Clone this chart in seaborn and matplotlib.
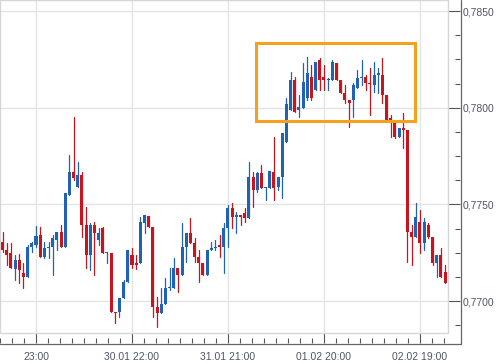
import numpy as np
import pandas as pd
import matplotlib
matplotlib.use("Agg")
import matplotlib.pyplot as plt
import matplotlib.ticker as mticker
from matplotlib.patches import Rectangle
from matplotlib.lines import Line2D
import seaborn as sns

# ---- data (hourly candles, hour 0 = 29.01 23:00) ----
hours = list(range(-8, 99))
opens = [0.77305, 0.77264, 0.77248, 0.77166, 0.77212, 0.77145, 0.77124, 0.77280,
         0.77290, 0.77341, 0.77228, 0.77274, 0.77280, 0.77316, 0.77357, 0.77280,
         0.77548, 0.77668, 0.77590, 0.77652, 0.77393, 0.77238, 0.77393, 0.77316,
         0.77378, 0.77248, 0.77248, 0.76943, 0.76943, 0.77015, 0.77098, 0.77238,
         0.77197, 0.77197, 0.77404, 0.77440, 0.77383, 0.76970, 0.76938, 0.76984,
         0.77067, 0.77067, 0.77171, 0.77134, 0.77280, 0.77352, 0.77300, 0.77228,
         0.77197, 0.77134, 0.77264, 0.77274, 0.77290, 0.77280, 0.77378, 0.77481,
         0.77435, 0.77445, 0.77456, 0.77430, 0.77642, 0.77574, 0.77662, 0.77585,
         0.77585, 0.77668, 0.77590, 0.77642, 0.77823, 0.77988, 0.78143, 0.77988,
         0.77999, 0.78050, 0.78159, 0.78092, 0.78247, 0.78159, 0.78143, 0.78143,
         0.78231, 0.78143, 0.78076, 0.78040, 0.78040, 0.78102, 0.78154, 0.78159,
         0.78128, 0.78117, 0.78169, 0.78169, 0.78066, 0.77947, 0.77936, 0.77849,
         0.77895, 0.77885, 0.77357, 0.77331, 0.77409, 0.77300, 0.77393, 0.77331,
         0.77197, 0.77238, 0.77150]
closes = [0.77264, 0.77238, 0.77171, 0.77212, 0.77160, 0.77124, 0.77280, 0.77300,
          0.77336, 0.77228, 0.77274, 0.77280, 0.77326, 0.77357, 0.77280, 0.77559,
          0.77668, 0.77637, 0.77652, 0.77393, 0.77238, 0.77393, 0.77352, 0.77352,
          0.77248, 0.77254, 0.76943, 0.76938, 0.77015, 0.77098, 0.77264, 0.77186,
          0.77186, 0.77409, 0.77445, 0.77383, 0.76970, 0.76938, 0.76984, 0.77067,
          0.77072, 0.77171, 0.77134, 0.77280, 0.77352, 0.77300, 0.77228, 0.77197,
          0.77134, 0.77264, 0.77274, 0.77280, 0.77280, 0.77378, 0.77481, 0.77435,
          0.77445, 0.77435, 0.77430, 0.77642, 0.77574, 0.77662, 0.77585, 0.77590,
          0.77673, 0.77585, 0.77642, 0.77869, 0.78019, 0.78143, 0.77978, 0.78004,
          0.78133, 0.78179, 0.78050, 0.78236, 0.78143, 0.78143, 0.78148, 0.78236,
          0.78143, 0.78076, 0.78040, 0.78024, 0.78117, 0.78154, 0.78159, 0.78128,
          0.78123, 0.78169, 0.78179, 0.78066, 0.77936, 0.77926, 0.77849, 0.77895,
          0.77885, 0.77357, 0.77331, 0.77435, 0.77300, 0.77409, 0.77331, 0.77197,
          0.77238, 0.77124, 0.77093]
highs = [0.77357, 0.77300, 0.77300, 0.77238, 0.77243, 0.77197, 0.77290, 0.77305,
         0.77388, 0.77383, 0.77305, 0.77305, 0.77341, 0.77357, 0.77393, 0.77559,
         0.77755, 0.77952, 0.77719, 0.77668, 0.77487, 0.77404, 0.77409, 0.77378,
         0.77383, 0.77254, 0.77248, 0.76943, 0.77015, 0.77109, 0.77264, 0.77274,
         0.77238, 0.77435, 0.77445, 0.77440, 0.77383, 0.77021, 0.77067, 0.77119,
         0.77171, 0.77223, 0.77171, 0.77404, 0.77352, 0.77430, 0.77326, 0.77264,
         0.77197, 0.77264, 0.77305, 0.77316, 0.77341, 0.77404, 0.77497, 0.77507,
         0.77461, 0.77445, 0.77481, 0.77719, 0.77668, 0.77668, 0.77704, 0.77590,
         0.77673, 0.77849, 0.77642, 0.77869, 0.78050, 0.78185, 0.78159, 0.78066,
         0.78231, 0.78262, 0.78221, 0.78236, 0.78257, 0.78221, 0.78154, 0.78247,
         0.78231, 0.78143, 0.78117, 0.78040, 0.78128, 0.78195, 0.78247, 0.78169,
         0.78205, 0.78236, 0.78205, 0.78257, 0.78066, 0.77962, 0.77936, 0.77895,
         0.77973, 0.77885, 0.77393, 0.77507, 0.77471, 0.77430, 0.77404, 0.77331,
         0.77238, 0.77274, 0.77186]
lows = [0.77254, 0.77186, 0.77171, 0.77109, 0.77093, 0.77067, 0.77124, 0.77254,
        0.77280, 0.77228, 0.77223, 0.77223, 0.77134, 0.77264, 0.77280, 0.77280,
        0.77548, 0.77626, 0.77590, 0.77331, 0.77171, 0.77160, 0.77134, 0.77290,
        0.77248, 0.77197, 0.76943, 0.76886, 0.76917, 0.77015, 0.77098, 0.77171,
        0.77166, 0.77197, 0.77352, 0.77383, 0.76917, 0.76866, 0.76938, 0.76984,
        0.77057, 0.77067, 0.77047, 0.77134, 0.77202, 0.77300, 0.77202, 0.77098,
        0.77134, 0.77134, 0.77264, 0.77264, 0.77228, 0.77145, 0.77280, 0.77378,
        0.77352, 0.77393, 0.77409, 0.77430, 0.77487, 0.77564, 0.77585, 0.77523,
        0.77585, 0.77523, 0.77574, 0.77533, 0.77823, 0.77988, 0.77978, 0.77952,
        0.77999, 0.78040, 0.78040, 0.78092, 0.78092, 0.78092, 0.78092, 0.78143,
        0.78143, 0.78076, 0.78024, 0.77900, 0.77952, 0.78102, 0.78117, 0.78092,
        0.77962, 0.78081, 0.78076, 0.78024, 0.77926, 0.77849, 0.77843, 0.77849,
        0.77792, 0.77202, 0.77186, 0.77331, 0.77248, 0.77264, 0.77326, 0.77186,
        0.77124, 0.77124, 0.77093]

tick_hours = [0, 23, 46, 69, 92]
tick_labels = ["23:00", "30.01 22:00", "31.01 21:00", "01.02 20:00", "02.02 19:00"]
price_ticks = [0.7700, 0.7750, 0.7800, 0.7850]
box_hours = [52.7, 90.8]
box_prices = [0.77931, 0.78335]

BLUE = "#2063b2"
RED = "#c8141c"
ORANGE = "#f5a11c"
TXT = "#4f5666"

sns.set_style("white")
plt.rcParams["font.family"] = ["Liberation Sans", "DejaVu Sans"]

df = pd.DataFrame({"hour": hours, "open": opens, "close": closes,
                   "high": highs, "low": lows})
df["dir"] = np.where(df["close"] >= df["open"], "up", "down")

W, H = 498, 363
fig = plt.figure(figsize=(W / 100, H / 100), dpi=100)
ax = fig.add_axes([0, 30 / H, 448 / W, 333 / H])

# wicks via seaborn
wick = pd.concat([
    df[["hour", "high", "dir"]].rename(columns={"high": "price"}),
    df[["hour", "low", "dir"]].rename(columns={"low": "price"}),
]).sort_values("hour")
sns.lineplot(data=wick, x="hour", y="price", units="hour", estimator=None,
             hue="dir", palette={"up": BLUE, "down": RED}, linewidth=0.9,
             legend=False, ax=ax, sort=False, zorder=3)

# bodies
bottom = np.minimum(df["open"], df["close"])
height = np.maximum(np.abs(df["close"] - df["open"]), 0.00003)
colors = [BLUE if d == "up" else RED for d in df["dir"]]
ax.bar(df["hour"], height, bottom=bottom, width=0.72, color=colors,
       linewidth=0, zorder=4)

# highlight box
ax.add_patch(Rectangle((box_hours[0], box_prices[0]), box_hours[1] - box_hours[0],
                       box_prices[1] - box_prices[0], fill=False,
                       edgecolor=ORANGE, linewidth=2.2, zorder=5))

ax.set_xlim(-8.625, 98.71)
ax.set_ylim(0.768345, 0.785569)
ax.set_xlabel("")
ax.set_ylabel("")

ax.set_xticks(tick_hours)
ax.set_xticklabels(tick_labels)
ax.xaxis.set_minor_locator(mticker.MultipleLocator(23 / 8))
ax.yaxis.tick_right()
ax.set_yticks(price_ticks)
ax.set_yticklabels([f"{p:.4f}".replace(".", ",") for p in price_ticks])
ax.yaxis.set_minor_locator(mticker.MultipleLocator(0.00125))

for s in ["left", "top"]:
    ax.spines[s].set_visible(False)
ax.spines["right"].set_position(("outward", 12 * 0.72))
ax.spines["bottom"].set_position(("outward", 10 * 0.72))
ax.spines["right"].set_visible(False)
ax.spines["bottom"].set_visible(False)

ax.tick_params(axis="x", which="major", direction="in", length=7.2, width=0.8,
               color="#555555", labelsize=7.5, labelcolor=TXT, pad=6.5,
               bottom=True, top=False)
ax.tick_params(axis="x", which="minor", direction="in", length=3.6, width=0.8,
               color="#555555", bottom=True, top=False)
ax.tick_params(axis="y", which="major", direction="in", length=8.6, width=0.8,
               color="#555555", labelsize=7.5, labelcolor=TXT, pad=2.2,
               right=True, left=False)
ax.tick_params(axis="y", which="minor", direction="in", length=3.6, width=0.8,
               color="#555555", right=True, left=False)

ax.grid(True, which="major", color="#e4e4e4", linewidth=1.0, zorder=0)
ax.set_axisbelow(True)

# light plot-area frame
ax.add_patch(Rectangle((0, 0), 1, 1, transform=ax.transAxes, fill=False,
                       edgecolor="#d6d6d6", linewidth=1.0, clip_on=False, zorder=1))

# outer axis lines
fig.add_artist(Line2D([0, 460.5 / W], [1 - 343.5 / H, 1 - 343.5 / H],
                      color="#666666", linewidth=0.9))
fig.add_artist(Line2D([460.5 / W, 460.5 / W], [1 - 343.5 / H, 1],
                      color="#666666", linewidth=0.9))

fig.savefig("out.png", dpi=100)
